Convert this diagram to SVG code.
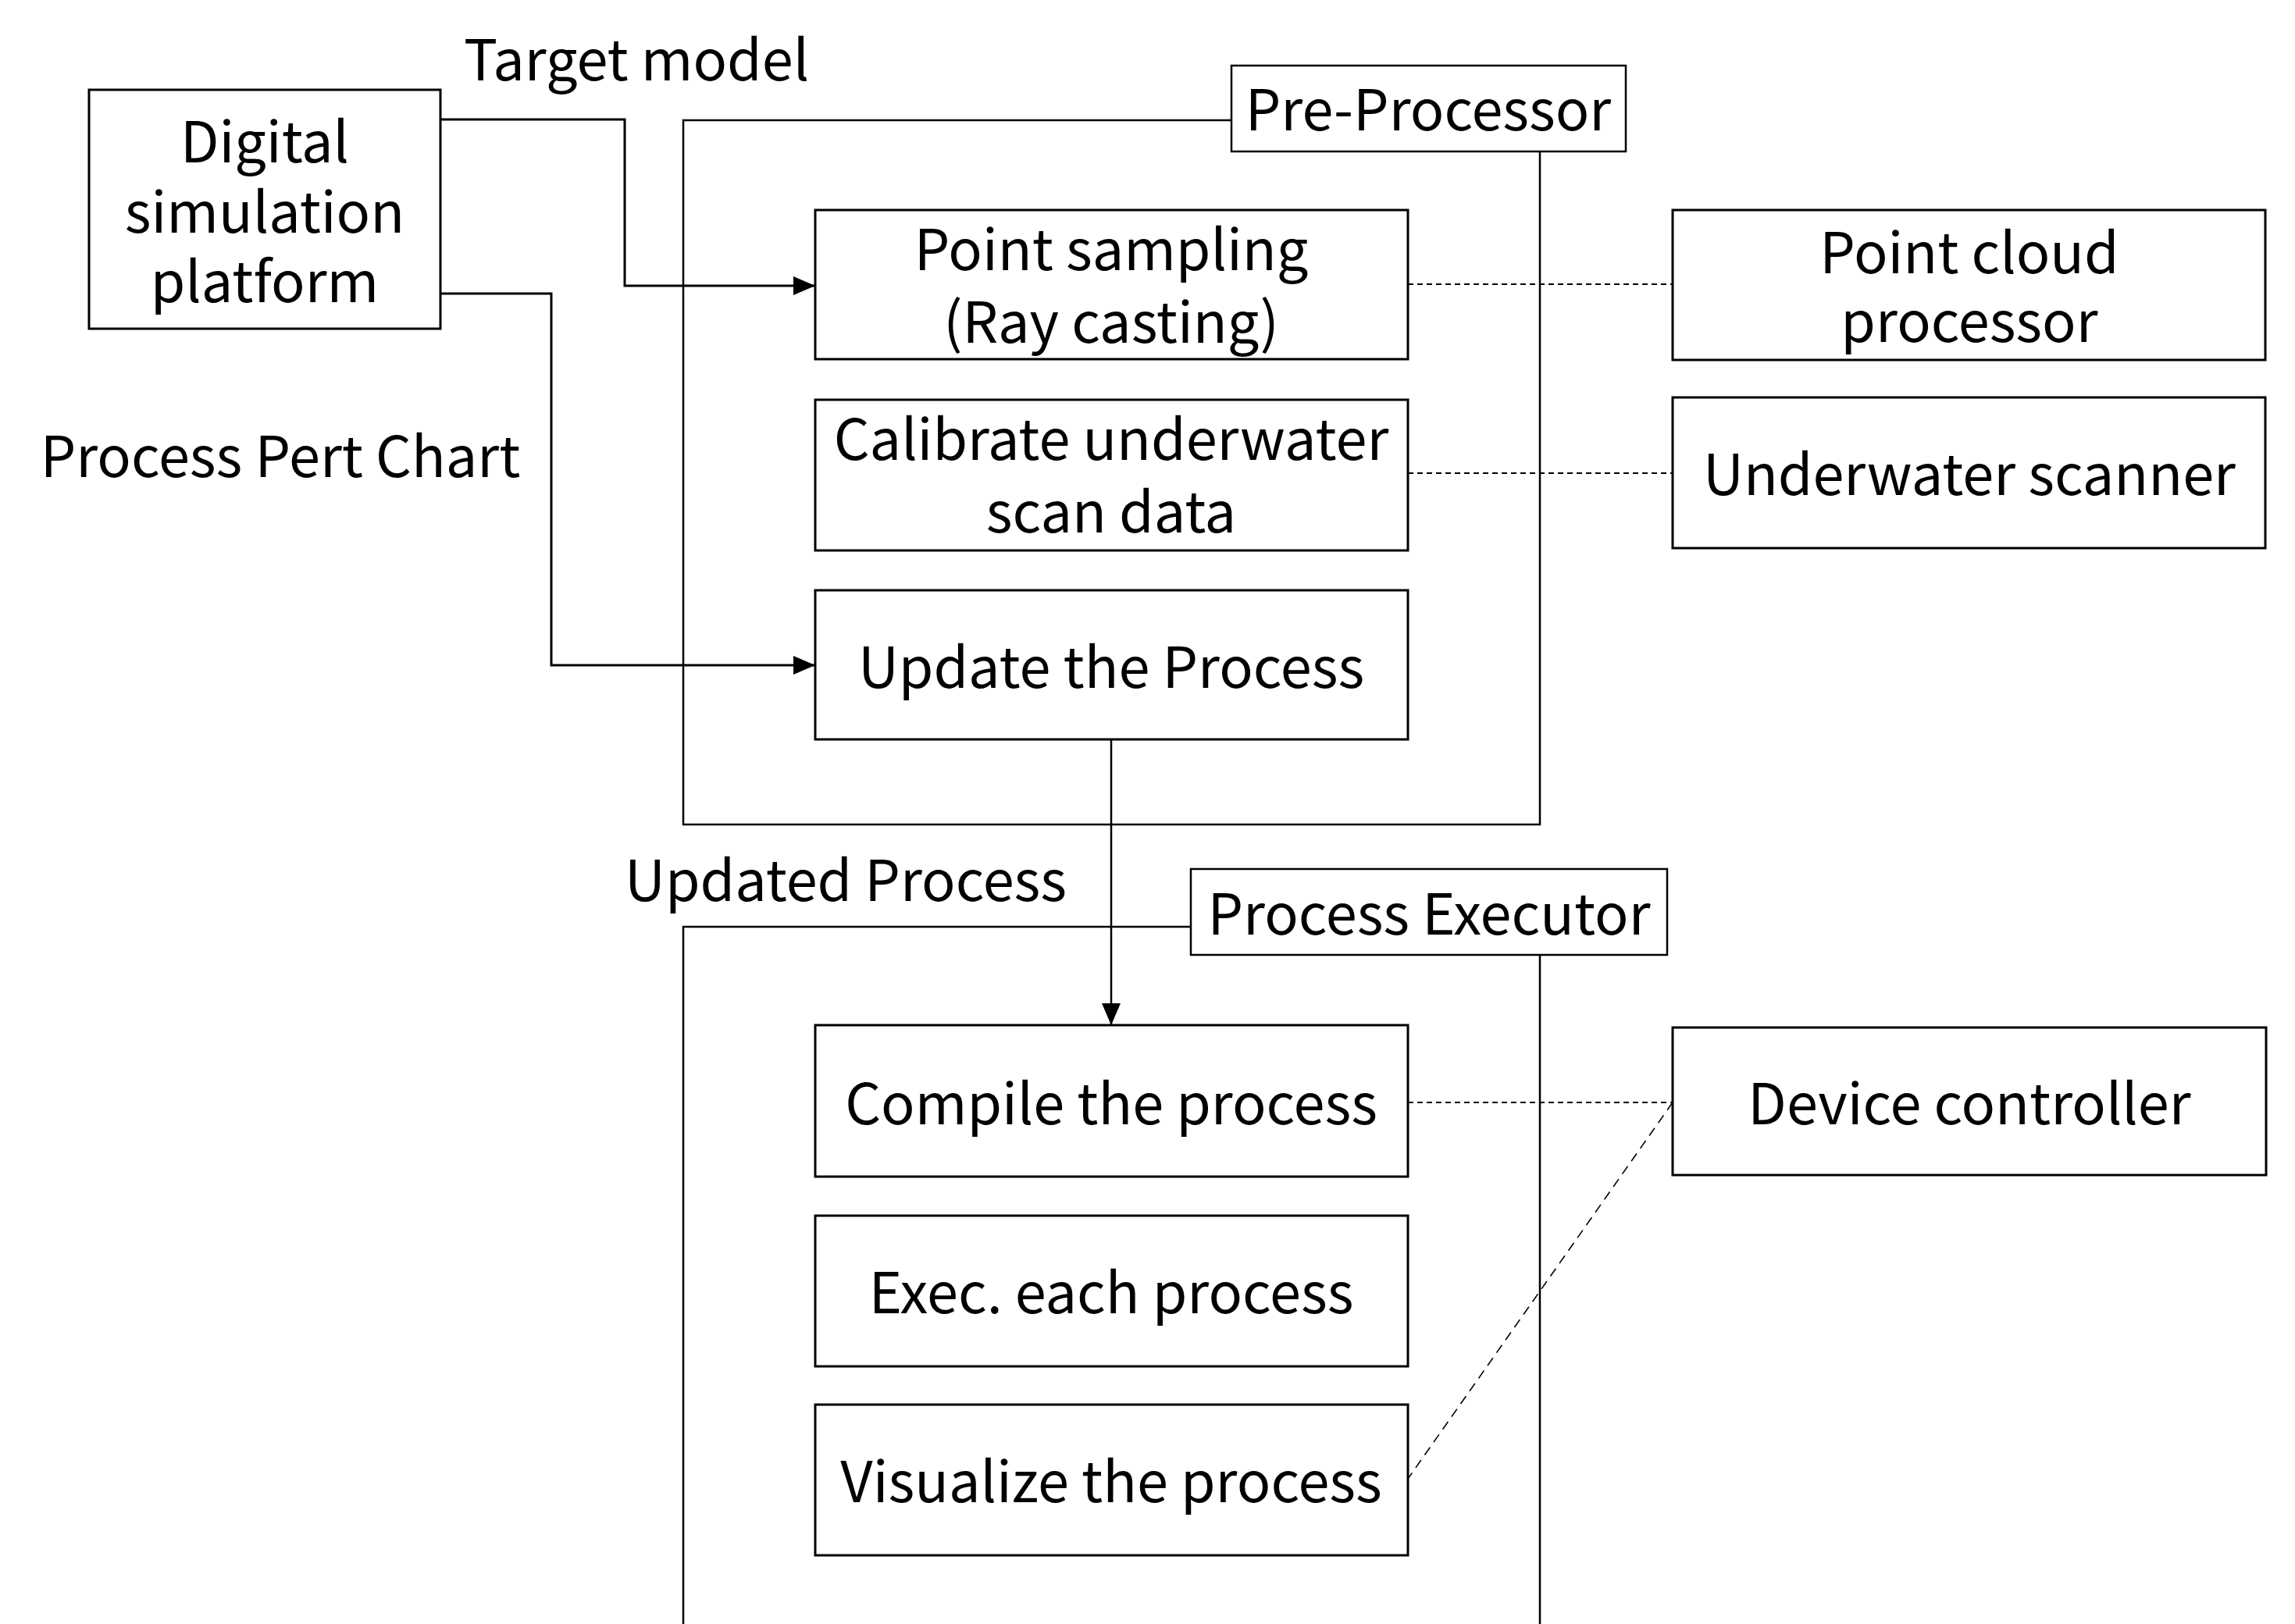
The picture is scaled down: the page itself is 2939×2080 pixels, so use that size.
<svg xmlns="http://www.w3.org/2000/svg" width="2939" height="2080" viewBox="0 0 2939 2080">
<style>
text{font-family:"Noto Sans CJK KR","Noto Sans",sans-serif;font-size:72px;fill:#000;text-anchor:middle}
.box{fill:#fff;stroke:#000;stroke-width:3}
.frame{fill:none;stroke:#000;stroke-width:2.5}
.conn{fill:none;stroke:#000;stroke-width:3}
.dash{fill:none;stroke:#000;stroke-width:2;stroke-dasharray:7,5}
.dash2{fill:none;stroke:#000;stroke-width:1.6;stroke-dasharray:12,8}
</style>
<defs>
<marker id="arrow" viewBox="0 0 28 24" refX="28" refY="12" markerWidth="28" markerHeight="24" orient="auto" markerUnits="userSpaceOnUse">
<path d="M0,0 L28,12 L0,24 Z" fill="#000"/>
</marker>
</defs>
<rect width="2939" height="2080" fill="#fff"/>
<g id="frames">
<path class="frame" d="M1577,154 H875 V1056 H1972 V194"/>
<path class="frame" d="M1525,1187 H875 V2080 M1972,1223 V2080"/>
</g>
<g id="connectors">
<path class="conn" d="M564,153 H800 V366 H1044" marker-end="url(#arrow)"/>
<path class="conn" d="M564,376 H706 V852 H1044" marker-end="url(#arrow)"/>
<path class="conn" d="M1423,947 V1313" marker-end="url(#arrow)" style="stroke-width:2.5"/>
<path class="dash" d="M1803,364 H2142"/>
<path class="dash" d="M1803,606 H2142"/>
<path class="dash" d="M1803,1412 H2142"/>
<path class="dash2" d="M2142,1412 L1803,1894"/>
</g>
<g id="label-target"><text x="815" y="103">Target model</text></g>
<g id="label-pert"><text x="359" y="611">Process Pert Chart</text></g>
<g id="label-updated"><text x="1083" y="1154">Updated Process</text></g>
<g id="digital">
<rect class="box" x="114" y="115" width="450" height="306"/>
<text x="339" y="208">Digital<tspan x="339" y="298">simulation</tspan><tspan x="339" y="387">platform</tspan></text>
</g>
<g id="preprocessor">
<rect class="box" x="1577" y="84" width="505" height="110" style="stroke-width:2.5"/>
<text x="1829" y="167">Pre-Processor</text>
</g>
<g id="point-sampling">
<rect class="box" x="1044" y="269" width="759" height="191"/>
<text x="1423" y="346">Point sampling<tspan x="1423" y="439">(Ray casting)</tspan></text>
</g>
<g id="calibrate">
<rect class="box" x="1044" y="512" width="759" height="193"/>
<text x="1423" y="589">Calibrate underwater<tspan x="1423" y="682">scan data</tspan></text>
</g>
<g id="update">
<rect class="box" x="1044" y="756" width="759" height="191"/>
<text x="1423" y="881">Update the Process</text>
</g>
<g id="point-cloud">
<rect class="box" x="2142" y="269" width="759" height="192"/>
<text x="2522" y="350">Point cloud<tspan x="2522" y="438">processor</tspan></text>
</g>
<g id="scanner">
<rect class="box" x="2142" y="509" width="759" height="193"/>
<text x="2522" y="634">Underwater scanner</text>
</g>
<g id="executor">
<rect class="box" x="1525" y="1113" width="610" height="110" style="stroke-width:2.5"/>
<text x="1830" y="1197">Process Executor</text>
</g>
<g id="compile">
<rect class="box" x="1044" y="1313" width="759" height="194"/>
<text x="1423" y="1440">Compile the process</text>
</g>
<g id="device">
<rect class="box" x="2142" y="1316" width="760" height="189"/>
<text x="2522" y="1440">Device controller</text>
</g>
<g id="exec-each">
<rect class="box" x="1044" y="1557" width="759" height="193"/>
<text x="1423" y="1682">Exec. each process</text>
</g>
<g id="visualize">
<rect class="box" x="1044" y="1799" width="759" height="193"/>
<text x="1423" y="1924">Visualize the process</text>
</g>
</svg>
